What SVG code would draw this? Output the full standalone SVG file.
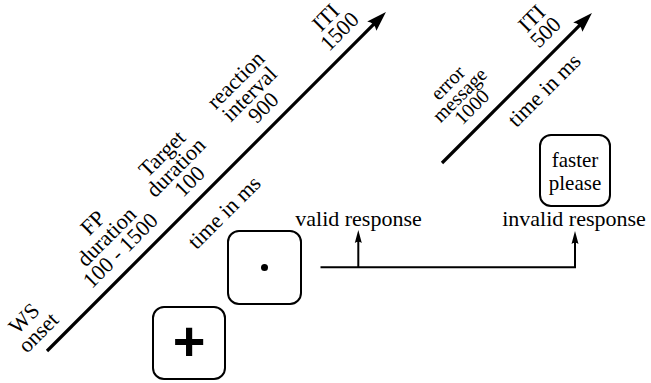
<svg xmlns="http://www.w3.org/2000/svg" width="651" height="383" viewBox="0 0 651 383">
<style>
  text { font-family: "Liberation Serif", "Times New Roman", serif; fill: #000; }
  .lbl { font-size: 22px; text-anchor: middle; }
  .sm { font-size: 20px; text-anchor: middle; }
  .hz { font-size: 22px; text-anchor: middle; }
  .bx { font-size: 21px; text-anchor: middle; }
  .axis { stroke: #000; stroke-width: 3.2; fill: none; stroke-linecap: butt; }
  .box { fill: #fff; stroke: #000; stroke-width: 2; }
  .conn { stroke: #000; stroke-width: 2; fill: none; }
</style>
<defs>
  <marker id="bigArrow" viewBox="0 -8 22 16" refX="11" refY="0" markerWidth="22" markerHeight="16" markerUnits="userSpaceOnUse" orient="auto">
    <path d="M20,0 L0,-6.5 Q4.5,0 0,6.5 Z" fill="#000"/>
  </marker>
  <marker id="smallArrow" viewBox="0 -5 14 10" refX="6" refY="0" markerWidth="14" markerHeight="10" markerUnits="userSpaceOnUse" orient="auto">
    <path d="M13,0 L0,-3.5 Q2.5,0 0,3.5 Z" fill="#000"/>
  </marker>
</defs>

<g id="axis-main">
  <line class="axis" x1="47" y1="351" x2="379.6" y2="18.4" marker-end="url(#bigArrow)"/>
</g>
<g id="axis-error">
  <line class="axis" x1="442" y1="163" x2="585.6" y2="19.4" marker-end="url(#bigArrow)"/>
</g>

<g id="label-ws">
  <text class="lbl" transform="translate(43.4,337.6) rotate(-45)"><tspan x="0" y="-20">WS</tspan><tspan x="0" y="0">onset</tspan></text>
</g>
<g id="label-fp">
  <text class="lbl" transform="translate(125.5,255.5) rotate(-45)"><tspan x="0" y="-39">FP</tspan><tspan x="0" y="-19.5">duration</tspan><tspan x="0" y="0">100 - 1500</tspan></text>
</g>
<g id="label-target">
  <text class="lbl" transform="translate(194.7,186.3) rotate(-45)"><tspan x="0" y="-39">Target</tspan><tspan x="0" y="-19.5">duration</tspan><tspan x="0" y="0">100</tspan></text>
</g>
<g id="label-reaction">
  <text class="lbl" transform="translate(268.3,112.7) rotate(-45)"><tspan x="0" y="-39">reaction</tspan><tspan x="0" y="-19.5">interval</tspan><tspan x="0" y="0">900</tspan></text>
</g>
<g id="label-iti1">
  <text class="lbl" transform="translate(344.6,36.4) rotate(-45)"><tspan x="0" y="-19.5">ITI</tspan><tspan x="0" y="0">1500</tspan></text>
</g>
<g id="label-time1">
  <text class="lbl" transform="translate(229.3,217.5) rotate(-45)">time in ms</text>
</g>

<g id="label-error">
  <text class="sm" transform="translate(476.4,111.6) rotate(-45)"><tspan x="0" y="-34">error</tspan><tspan x="0" y="-17">message</tspan><tspan x="0" y="0">1000</tspan></text>
</g>
<g id="label-iti2">
  <text class="lbl" transform="translate(550.6,37.4) rotate(-45)"><tspan x="0" y="-19.5">ITI</tspan><tspan x="0" y="0">500</tspan></text>
</g>
<g id="label-time2">
  <text class="lbl" transform="translate(549.3,95.3) rotate(-45)">time in ms</text>
</g>

<g id="box-fixation">
  <rect class="box" x="153" y="307" width="72" height="72" rx="11"/>
  <text x="189" y="360" text-anchor="middle" style="font-family:'Liberation Sans', Arial, sans-serif; font-weight:bold; font-size:56px;">+</text>
</g>
<g id="box-target">
  <rect class="box" x="228" y="231" width="73" height="73" rx="11"/>
  <circle cx="264.5" cy="267.5" r="3.5" fill="#000"/>
</g>
<g id="box-error">
  <rect class="box" x="540" y="135" width="70" height="71" rx="11"/>
  <text class="bx" x="575" y="167">faster</text>
  <text class="bx" x="575" y="190">please</text>
</g>

<g id="label-valid">
  <text class="hz" x="358.5" y="226">valid response</text>
</g>
<g id="label-invalid">
  <text class="hz" x="574" y="226">invalid response</text>
</g>

<g id="connectors">
  <path class="conn" d="M320.5,267.3 H575 V238" marker-end="url(#smallArrow)"/>
  <path class="conn" d="M358.3,267.3 V237" marker-end="url(#smallArrow)"/>
</g>
</svg>
